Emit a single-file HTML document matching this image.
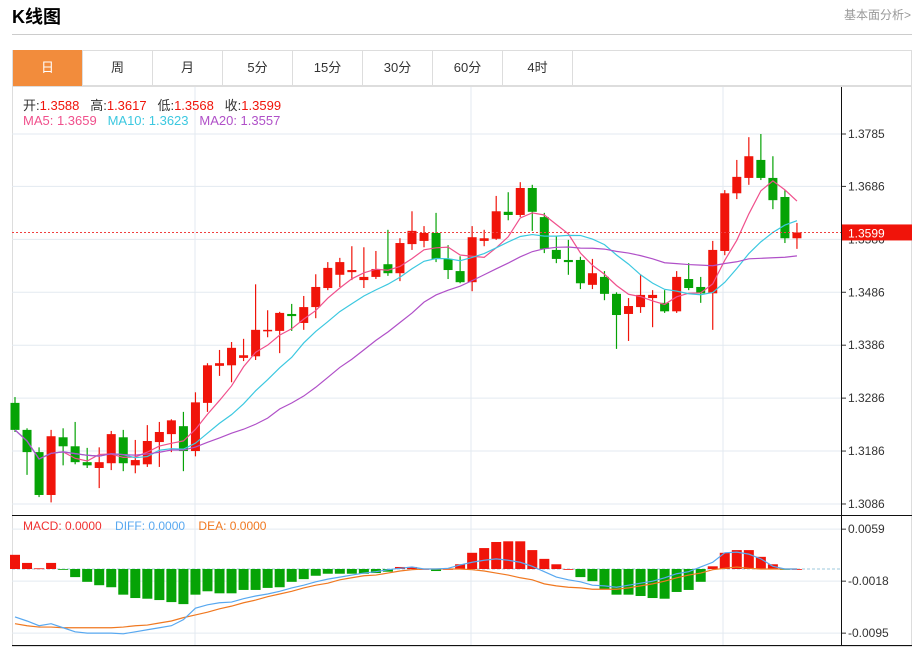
<!DOCTYPE html>
<html><head><meta charset="utf-8"><style>
body{margin:0;width:920px;height:648px;background:#fff;font-family:"Liberation Sans","Noto Sans CJK SC",sans-serif;overflow:hidden;position:relative}
.t{position:absolute;white-space:nowrap}
.tab{position:absolute;top:50px;height:36px;width:70px;border-right:1px solid #ddd;text-align:center;line-height:36px;font-size:13px;color:#333;box-sizing:border-box}
</style></head><body>
<div class="t" style="left:12px;top:3px;font-size:18px;font-weight:bold;color:#000">K线图</div>
<div class="t" style="left:844px;top:6px;font-size:12px;color:#999">基本面分析&gt;</div>
<div style="position:absolute;left:12px;top:34px;width:900px;height:1px;background:#ccc"></div>
<div style="position:absolute;left:12px;top:50px;width:900px;height:36px;border:1px solid #ddd;box-sizing:border-box"></div>
<div class="tab" style="left:13px;background:#f28c3c;color:#fff">日</div>
<div class="tab" style="left:83px">周</div>
<div class="tab" style="left:153px">月</div>
<div class="tab" style="left:223px">5分</div>
<div class="tab" style="left:293px">15分</div>
<div class="tab" style="left:363px">30分</div>
<div class="tab" style="left:433px">60分</div>
<div class="tab" style="left:503px">4时</div>
<svg id="c" width="920" height="648" style="position:absolute;left:0;top:0" font-family="Liberation Sans, Noto Sans CJK SC, sans-serif"></svg>
<script>
const opens=[1.3277,1.3226,1.3184,1.3103,1.3212,1.3195,1.3165,1.3154,1.3163,1.3212,1.3159,1.3161,1.3203,1.3218,1.3233,1.3186,1.3277,1.3347,1.3348,1.3362,1.3365,1.3413,1.3413,1.3445,1.3428,1.3458,1.3494,1.3519,1.3524,1.3509,1.3515,1.3539,1.3522,1.3577,1.3583,1.3598,1.3549,1.3526,1.3505,1.3583,1.3587,1.3638,1.3632,1.3683,1.3628,1.3566,1.3547,1.3547,1.3500,1.3515,1.3483,1.3445,1.3458,1.3475,1.3466,1.3450,1.3511,1.3496,1.3484,1.3564,1.3673,1.3702,1.3736,1.3702,1.3666,1.3588];
const closes=[1.3226,1.3184,1.3103,1.3214,1.3195,1.3165,1.3159,1.3165,1.3218,1.3163,1.3169,1.3205,1.3222,1.3244,1.3186,1.3278,1.3348,1.3352,1.3381,1.3367,1.3415,1.3415,1.3447,1.3441,1.3458,1.3496,1.3532,1.3543,1.3528,1.3515,1.3530,1.3522,1.3579,1.3602,1.3598,1.3549,1.3528,1.3505,1.3590,1.3588,1.3639,1.3632,1.3683,1.3638,1.3568,1.3549,1.3543,1.3503,1.3522,1.3483,1.3443,1.3460,1.3481,1.3481,1.3450,1.3515,1.3494,1.3484,1.3566,1.3673,1.3704,1.3743,1.3702,1.3660,1.3588,1.3599];
const highs=[1.3288,1.3229,1.3193,1.3226,1.3229,1.3241,1.3192,1.3193,1.3224,1.3226,1.3207,1.3235,1.3241,1.3246,1.3260,1.3297,1.3352,1.3377,1.3392,1.3398,1.3501,1.3452,1.3449,1.3464,1.3479,1.3520,1.3543,1.3551,1.3573,1.3571,1.3564,1.3604,1.3588,1.3639,1.3611,1.3636,1.3575,1.3554,1.3611,1.3604,1.3668,1.3675,1.3694,1.3689,1.3636,1.3592,1.3585,1.3553,1.3549,1.3526,1.3486,1.3475,1.3520,1.3490,1.3490,1.3526,1.3541,1.3515,1.3583,1.3679,1.3736,1.3779,1.3785,1.3743,1.3679,1.3617];
const lows=[1.3222,1.3141,1.3099,1.3089,1.3159,1.3161,1.3154,1.3116,1.3150,1.3148,1.3144,1.3156,1.3156,1.3184,1.3148,1.3176,1.3260,1.3328,1.3316,1.3356,1.3358,1.3401,1.3371,1.3413,1.3415,1.3437,1.3490,1.3496,1.3509,1.3494,1.3511,1.3517,1.3507,1.3566,1.3571,1.3543,1.3511,1.3503,1.3488,1.3573,1.3585,1.3622,1.3628,1.3602,1.3560,1.3541,1.3519,1.3492,1.3492,1.3471,1.3379,1.3394,1.3447,1.3420,1.3447,1.3447,1.3490,1.3466,1.3415,1.3556,1.3662,1.3689,1.3698,1.3643,1.3579,1.3568];
const priceTicks=[1.3785,1.3686,1.3586,1.3486,1.3386,1.3286,1.3186,1.3086];
const macdHistE4=[21,9,1,9,-1,-12,-19,-24,-27,-38,-43,-44,-46,-49,-52,-38,-33,-36,-36,-31,-31,-28,-27,-19,-15,-10,-7,-7,-7,-7,-6,-4,3,3,0,-3,0,7,24,31,40,41,41,28,15,7,0,-12,-18,-30,-38,-38,-40,-43,-44,-34,-31,-19,4,24,28,28,18,7,-1,0];
const diffE4=[-71,-77,-84,-81,-87,-93,-95,-95,-95,-96,-93,-90,-87,-84,-75,-58,-53,-50,-49,-44,-40,-37,-33,-28,-24,-19,-15,-12,-9,-6,-4,-1,1,3,0,0,1,6,10,13,15,13,10,4,-4,-12,-16,-19,-24,-25,-27,-24,-21,-18,-13,-7,-4,3,10,24,25,22,15,4,0,0];
const deaE4=[-81,-84,-86,-86,-87,-87,-87,-87,-87,-86,-84,-83,-80,-77,-72,-68,-64,-59,-55,-50,-46,-41,-37,-33,-28,-24,-21,-16,-13,-10,-9,-6,-3,-1,0,0,0,0,-1,-3,-6,-9,-13,-16,-22,-25,-27,-28,-30,-30,-30,-28,-25,-22,-18,-13,-9,-6,-1,1,3,1,0,0,0,0];
const macdTicks=[0.0059,-0.0018,-0.0095];

const NS='http://www.w3.org/2000/svg',svg=document.getElementById('c');
function mk(t,a,p){const e=document.createElementNS(NS,t);for(const k in a)e.setAttribute(k,a[k]);(p||svg).appendChild(e);return e;}
const X=i=>15+i*12.03;
const Y=p=>134+(1.3785-p)*5293;
const M=v=>569-v*6753;
const RED='#f0140a',GRN='#06a306';
// frame
let e=mk('rect',{x:12.5,y:86.5,width:899,height:560,fill:'none',stroke:'#ddd'});

priceTicks.forEach(t=>{const y=Y(t);
 e=mk('line',{x1:12,x2:841,y1:y,y2:y,stroke:'#e3eaf0'});
 e=mk('line',{x1:841,x2:846,y1:y,y2:y,stroke:'#333'});
 e=mk('text',{x:848,y:y+4,'font-size':12,fill:'#333'});e.textContent=t.toFixed(4);
});
macdTicks.forEach(t=>{const y=M(t);
 e=mk('line',{x1:12,x2:841,y1:y,y2:y,stroke:'#e3eaf0'});
 e=mk('line',{x1:841,x2:846,y1:y,y2:y,stroke:'#333'});
 e=mk('text',{x:848,y:y+4,'font-size':12,fill:'#333'});e.textContent=t.toFixed(4);
});
[195,471,723].forEach(x=>{e=mk('line',{x1:x,x2:x,y1:87,y2:645,stroke:'#e3eaf0'});});
e=mk('line',{x1:12,x2:912,y1:515.5,y2:515.5,stroke:'#111'});
e=mk('line',{x1:12,x2:912,y1:645.5,y2:645.5,stroke:'#111'});
e=mk('line',{x1:841.5,x2:841.5,y1:87,y2:646,stroke:'#111'});
e=mk('line',{x1:12,x2:841,y1:M(0),y2:M(0),stroke:'#9cc8dc','stroke-dasharray':'3,2'});
// candles
opens.forEach((o,i)=>{const c=closes[i],col=c>=o?RED:GRN,x=X(i);
 e=mk('line',{x1:x,x2:x,y1:Y(highs[i]),y2:Y(lows[i]),stroke:col,'stroke-width':1.2});
 const t=Y(Math.max(o,c)),b=Y(Math.min(o,c));
 e=mk('rect',{x:x-4.5,y:t,width:9,height:Math.max(1.5,b-t),fill:col});
});
function ma(n){return closes.map((_,i)=>{const s=closes.slice(Math.max(0,i-n+1),i+1);return s.reduce((a,b)=>a+b,0)/s.length;});}
[[5,'#f0508c'],[10,'#3cc8e0'],[20,'#b050c8']].forEach(([n,col])=>{
 e=mk('polyline',{points:ma(n).map((v,i)=>X(i)+','+Y(v)).join(' '),fill:'none',stroke:col,'stroke-width':1.2});
 
});
// last price
const lp=closes[closes.length-1];
e=mk('line',{x1:12,x2:841,y1:Y(lp),y2:Y(lp),stroke:'#f04040','stroke-dasharray':'2,2'});
e=mk('rect',{x:842,y:Y(lp)-8,width:70,height:16,fill:'#f0140a'});
e=mk('text',{x:848,y:Y(lp)+5,'font-size':12,fill:'#fff'});e.textContent=lp.toFixed(4);
// macd
macdHistE4.forEach((h,i)=>{const v=h/1e4,y0=M(0),y1=M(v);
 e=mk('rect',{x:X(i)-5,y:Math.min(y0,y1),width:10,height:Math.max(0.8,Math.abs(y1-y0)),fill:v>=0?RED:GRN});
});
e=mk('polyline',{points:deaE4.map((v,i)=>X(i)+','+M(v/1e4)).join(' '),fill:'none',stroke:'#f07820','stroke-width':1.2});
e=mk('polyline',{points:diffE4.map((v,i)=>X(i)+','+M(v/1e4)).join(' '),fill:'none',stroke:'#58a8f0','stroke-width':1.2});
</script>
<div class="t" style="left:23px;top:95px;font-size:13px;color:#333">开:<span style="color:#f0140a">1.3588</span>&nbsp;&nbsp; 高:<span style="color:#f0140a">1.3617</span>&nbsp;&nbsp; 低:<span style="color:#f0140a">1.3568</span>&nbsp;&nbsp; 收:<span style="color:#f0140a">1.3599</span></div>
<div class="t" style="left:23px;top:113px;font-size:13px"><span style="color:#f0508c">MA5: 1.3659</span>&nbsp;&nbsp; <span style="color:#3cc8e0">MA10: 1.3623</span>&nbsp;&nbsp; <span style="color:#b050c8">MA20: 1.3557</span></div>
<div class="t" style="left:23px;top:519px;font-size:12px"><span style="color:#f03030">MACD: 0.0000</span>&nbsp;&nbsp;&nbsp; <span style="color:#58a8f0">DIFF: 0.0000</span>&nbsp;&nbsp;&nbsp; <span style="color:#f07820">DEA: 0.0000</span></div>
</body></html>
